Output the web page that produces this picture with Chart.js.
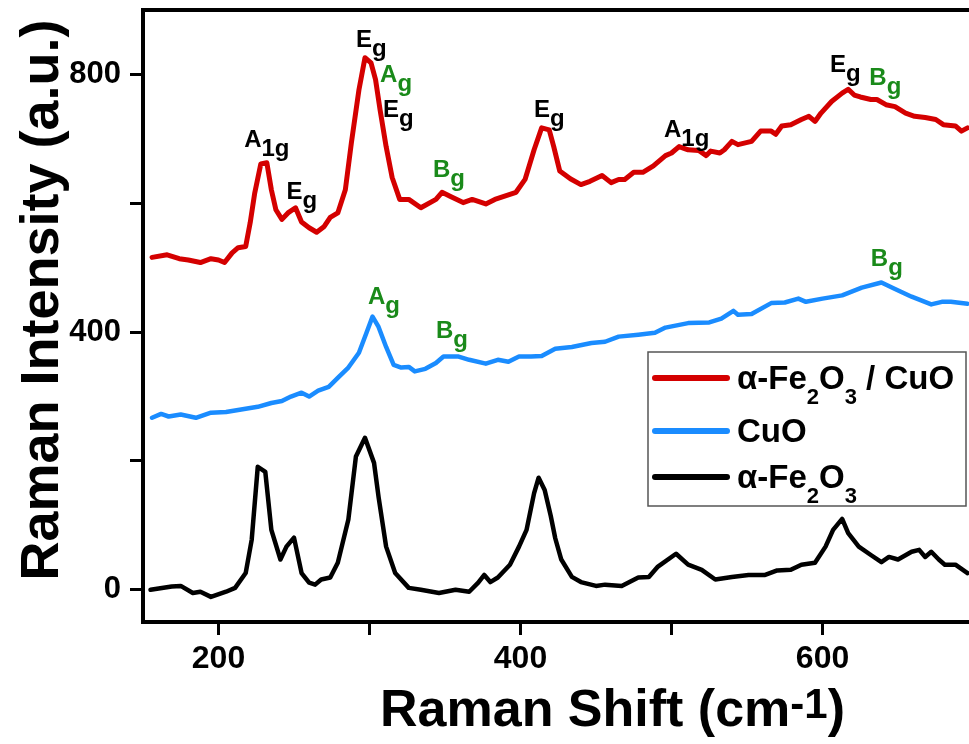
<!DOCTYPE html>
<html>
<head>
<meta charset="utf-8">
<script src="https://cdn.jsdelivr.net/npm/chart.js@4/dist/chart.umd.min.js"></script>
<style>
  html, body { margin: 0; padding: 0; background: #fff; }
  #c { display: block; }
</style>
</head>
<body>
<canvas id="c" width="969" height="744"></canvas>
<script>
// ---------------- DATA ----------------
// α-Fe2O3 / CuO composite (red)
const compX = [156,166,174,180,188,195,200,204,209,213,218,221,224,228,232,235,238,242,246,251,255,260,265,270,274,279,284,288,293,297,301,304,307,311,315,320,326,334,344,348,354,362,368,377,383,397,403,409,414,419,422,426,433,440,446,454,460,465,469,475,481,488,496,500,505,511,518,523,526,532,535,540,544,553,559,566,569,573,579,586,591,595,599,606,613,617,621,625,632,636,642,648,655,661,668,675,680,688,692,696];
const compY = [516,520,514,512,508,514,512,508,523,531,533,570,616,661,663,621,590,575,585,593,571,562,555,564,578,585,621,694,776,826,818,792,745,688,640,606,606,593,606,617,610,601,606,599,606,617,637,683,717,714,688,650,638,629,634,643,632,637,637,648,648,658,674,678,688,683,682,674,681,678,683,696,691,696,712,712,707,720,722,730,735,727,740,758,771,777,768,765,761,761,753,750,740,735,733,730,722,720,712,717];

// CuO (blue)
const cuoX = [156,162,167,175,185,195,205,215,226,235,242,248,255,260,266,273,279,286,293,298,302,306,311,316,321,326,330,337,344,349,359,366,377,385,392,399,407,414,423,434,447,456,465,478,489,496,511,525,533,541,544,553,566,575,584,589,600,613,626,639,648,659,672,679,685,696];
const cuoY = [267,273,269,272,267,275,276,280,284,290,293,300,306,300,309,315,329,345,368,399,424,408,377,349,345,346,339,343,352,362,362,357,351,357,354,362,362,363,374,377,383,385,393,396,399,407,414,415,421,433,427,428,445,446,452,447,452,457,469,477,467,455,443,447,447,444];

// α-Fe2O3 (black)
const feX = [155,169,175,183,188,195,205,211,218,222,226,231,235,241,245,250,255,260,264,268,274,279,286,291,297,303,306,311,317,326,334,346,357,366,372,376,380,385,393,399,404,409,412,416,420,423,427,434,440,450,456,467,478,485,491,503,511,520,529,540,551,562,570,579,586,595,602,607,613,617,624,632,639,644,650,659,664,668,672,677,681,688,696];
const feY = [0,5,6,-5,-3,-11,-3,3,26,78,191,183,93,47,67,81,26,11,8,16,19,42,109,207,236,197,144,67,26,3,0,-5,0,-3,11,23,12,19,39,67,93,150,174,155,115,80,47,20,12,6,8,6,19,20,36,56,39,31,16,20,23,23,30,31,39,42,67,93,110,88,67,54,43,51,47,59,62,51,59,47,39,39,26];

// series names (legend)
const seriesNames = ['α-Fe2O3 / CuO', 'CuO', 'α-Fe2O3'];

// tick values / labels
const xTickValues = [200, 300, 400, 500, 600];
const xTickLabels = ['200', '', '400', '', '600'];
const yTickValues = [0, 200, 400, 600, 800];
const yTickLabels = ['0', '', '400', '', '800'];

// peak annotations (data coordinates)
const annX    = [217, 245, 291, 307, 309, 342, 409, 495, 605, 631, 632, 299, 344];
const annY    = [688, 606, 842, 789, 734, 640, 734, 703, 803, 784, 502, 443, 391];
const annMain = ['A', 'E', 'E', 'A', 'E', 'B', 'E', 'A', 'E', 'B', 'B', 'A', 'B'];
const annSub  = ['1g','g', 'g', 'g', 'g', 'g', 'g', '1g','g', 'g', 'g', 'g', 'g'];
const annGreen= [false,false,false,true,false,true,false,false,false,true,true,true,true];

// ---------------- CHART ----------------
const FONT = "'Liberation Sans', Arial, Helvetica, sans-serif";
const RED = '#d40000', BLUE = '#1a8cff', BLACK = '#000000', GREEN = '#1a8a1a';

const zip = (xs, ys) => xs.map((x, i) => ({ x, y: ys[i] }));

function drawRich(ctx, parts, x, y, size, subSize, subDy, supDy) {
  let cx = x;
  for (const [t, kind] of parts) {
    if (kind === 'n') {
      ctx.font = `bold ${size}px ${FONT}`;
      ctx.fillText(t, cx, y);
    } else if (kind === 'sub') {
      ctx.font = `bold ${subSize}px ${FONT}`;
      ctx.fillText(t, cx, y + subDy);
    } else {
      ctx.font = `bold ${subSize}px ${FONT}`;
      ctx.fillText(t, cx, y - supDy);
    }
    cx += ctx.measureText(t).width;
  }
  return cx - x;
}

function nameParts(name) {
  const parts = [];
  let buf = '';
  for (let i = 0; i < name.length; i++) {
    const ch = name[i];
    if (/\d/.test(ch) && i > 0 && /[A-Za-z]/.test(name[i - 1])) {
      if (buf) parts.push([buf, 'n']);
      buf = '';
      parts.push([ch, 'sub']);
    } else buf += ch;
  }
  if (buf) parts.push([buf, 'n']);
  return parts;
}

const decorPlugin = {
  id: 'decor',
  afterDraw(chart) {
    const { ctx, chartArea: ca, scales } = chart;
    ctx.save();
    // top frame line
    ctx.strokeStyle = '#000';
    ctx.lineWidth = 4;
    ctx.beginPath();
    ctx.moveTo(ca.left - 2, ca.top);
    ctx.lineTo(ca.right + 2, ca.top);
    ctx.stroke();

    // annotations
    ctx.textBaseline = 'alphabetic';
    ctx.textAlign = 'left';
    for (let i = 0; i < annX.length; i++) {
      const px = scales.x.getPixelForValue(annX[i]);
      const py = scales.y.getPixelForValue(annY[i]);
      ctx.fillStyle = annGreen[i] ? GREEN : BLACK;
      drawRich(ctx, [[annMain[i], 'n'], [annSub[i], 'sub']], px, py, 24, 24, 9, 0);
    }

    // legend
    const lx = 648, ly = 352, lw = 318, lh = 154;
    ctx.fillStyle = '#fff';
    ctx.fillRect(lx, ly, lw, lh);
    ctx.strokeStyle = '#555';
    ctx.lineWidth = 1.5;
    ctx.strokeRect(lx, ly, lw, lh);
    const rowY = [378, 431, 477];
    chart.data.datasets.forEach((ds, i) => {
      ctx.strokeStyle = ds.borderColor;
      ctx.lineWidth = 6;
      ctx.lineCap = 'round';
      ctx.beginPath();
      ctx.moveTo(655, rowY[i]);
      ctx.lineTo(727, rowY[i]);
      ctx.stroke();
      ctx.fillStyle = '#000';
      drawRich(ctx, nameParts(seriesNames[i]), 737, rowY[i] + 11, 33, 22, 15, 0);
    });

    // axis titles
    ctx.fillStyle = '#000';
    drawRich(ctx, [['Raman Shift (cm', 'n'], ['-1', 'sup'], [')', 'n']], 380, 726, 52, 42, 0, 8);

    ctx.save();
    ctx.translate(58, 300);
    ctx.rotate(-Math.PI / 2);
    ctx.font = `bold 54px ${FONT}`;
    ctx.textAlign = 'center';
    ctx.fillText('Raman Intensity (a.u.)', 0, 0);
    ctx.restore();

    ctx.restore();
  }
};

new Chart(document.getElementById('c'), {
  type: 'line',
  data: {
    datasets: [
      { label: seriesNames[0], data: zip(compX, compY), borderColor: RED, borderWidth: 5 },
      { label: seriesNames[1], data: zip(cuoX, cuoY), borderColor: BLUE, borderWidth: 4.5 },
      { label: seriesNames[2], data: zip(feX, feY), borderColor: BLACK, borderWidth: 4.5 }
    ]
  },
  options: {
    responsive: false,
    animation: false,
    events: [],
    elements: {
      point: { radius: 0 },
      line: { tension: 0, borderJoinStyle: 'round', borderCapStyle: 'round', fill: false }
    },
    layout: { padding: { left: 0, right: 0, top: 10, bottom: 0 } },
    scales: {
      x: {
        type: 'linear',
        min: 150,
        max: 697,
        afterBuildTicks: (s) => { s.ticks = xTickValues.map(v => ({ value: v })); },
        afterFit: (s) => { s.height = 122; s.paddingLeft = 0; s.paddingRight = 0; },
        grid: { drawOnChartArea: false, drawTicks: true, tickLength: 13, tickWidth: 3, tickColor: '#000' },
        border: { display: true, width: 4, color: '#000' },
        ticks: {
          color: '#000',
          font: { family: FONT, size: 32, weight: 'bold' },
          padding: 5,
          maxRotation: 0,
          autoSkip: false,
          callback: (v, i) => xTickLabels[i]
        }
      },
      y: {
        type: 'linear',
        min: -50,
        max: 900,
        afterBuildTicks: (s) => { s.ticks = yTickValues.map(v => ({ value: v })); },
        afterFit: (s) => { s.width = 143; s.paddingTop = 0; s.paddingBottom = 0; },
        grid: { drawOnChartArea: false, drawTicks: true, tickLength: 13, tickWidth: 3, tickColor: '#000' },
        border: { display: true, width: 4, color: '#000' },
        ticks: {
          color: '#000',
          font: { family: FONT, size: 31, weight: 'bold' },
          padding: 9,
          autoSkip: false,
          callback: (v, i) => yTickLabels[i]
        }
      }
    },
    plugins: { legend: { display: false }, tooltip: { enabled: false } }
  },
  plugins: [decorPlugin]
});
</script>
</body>
</html>
